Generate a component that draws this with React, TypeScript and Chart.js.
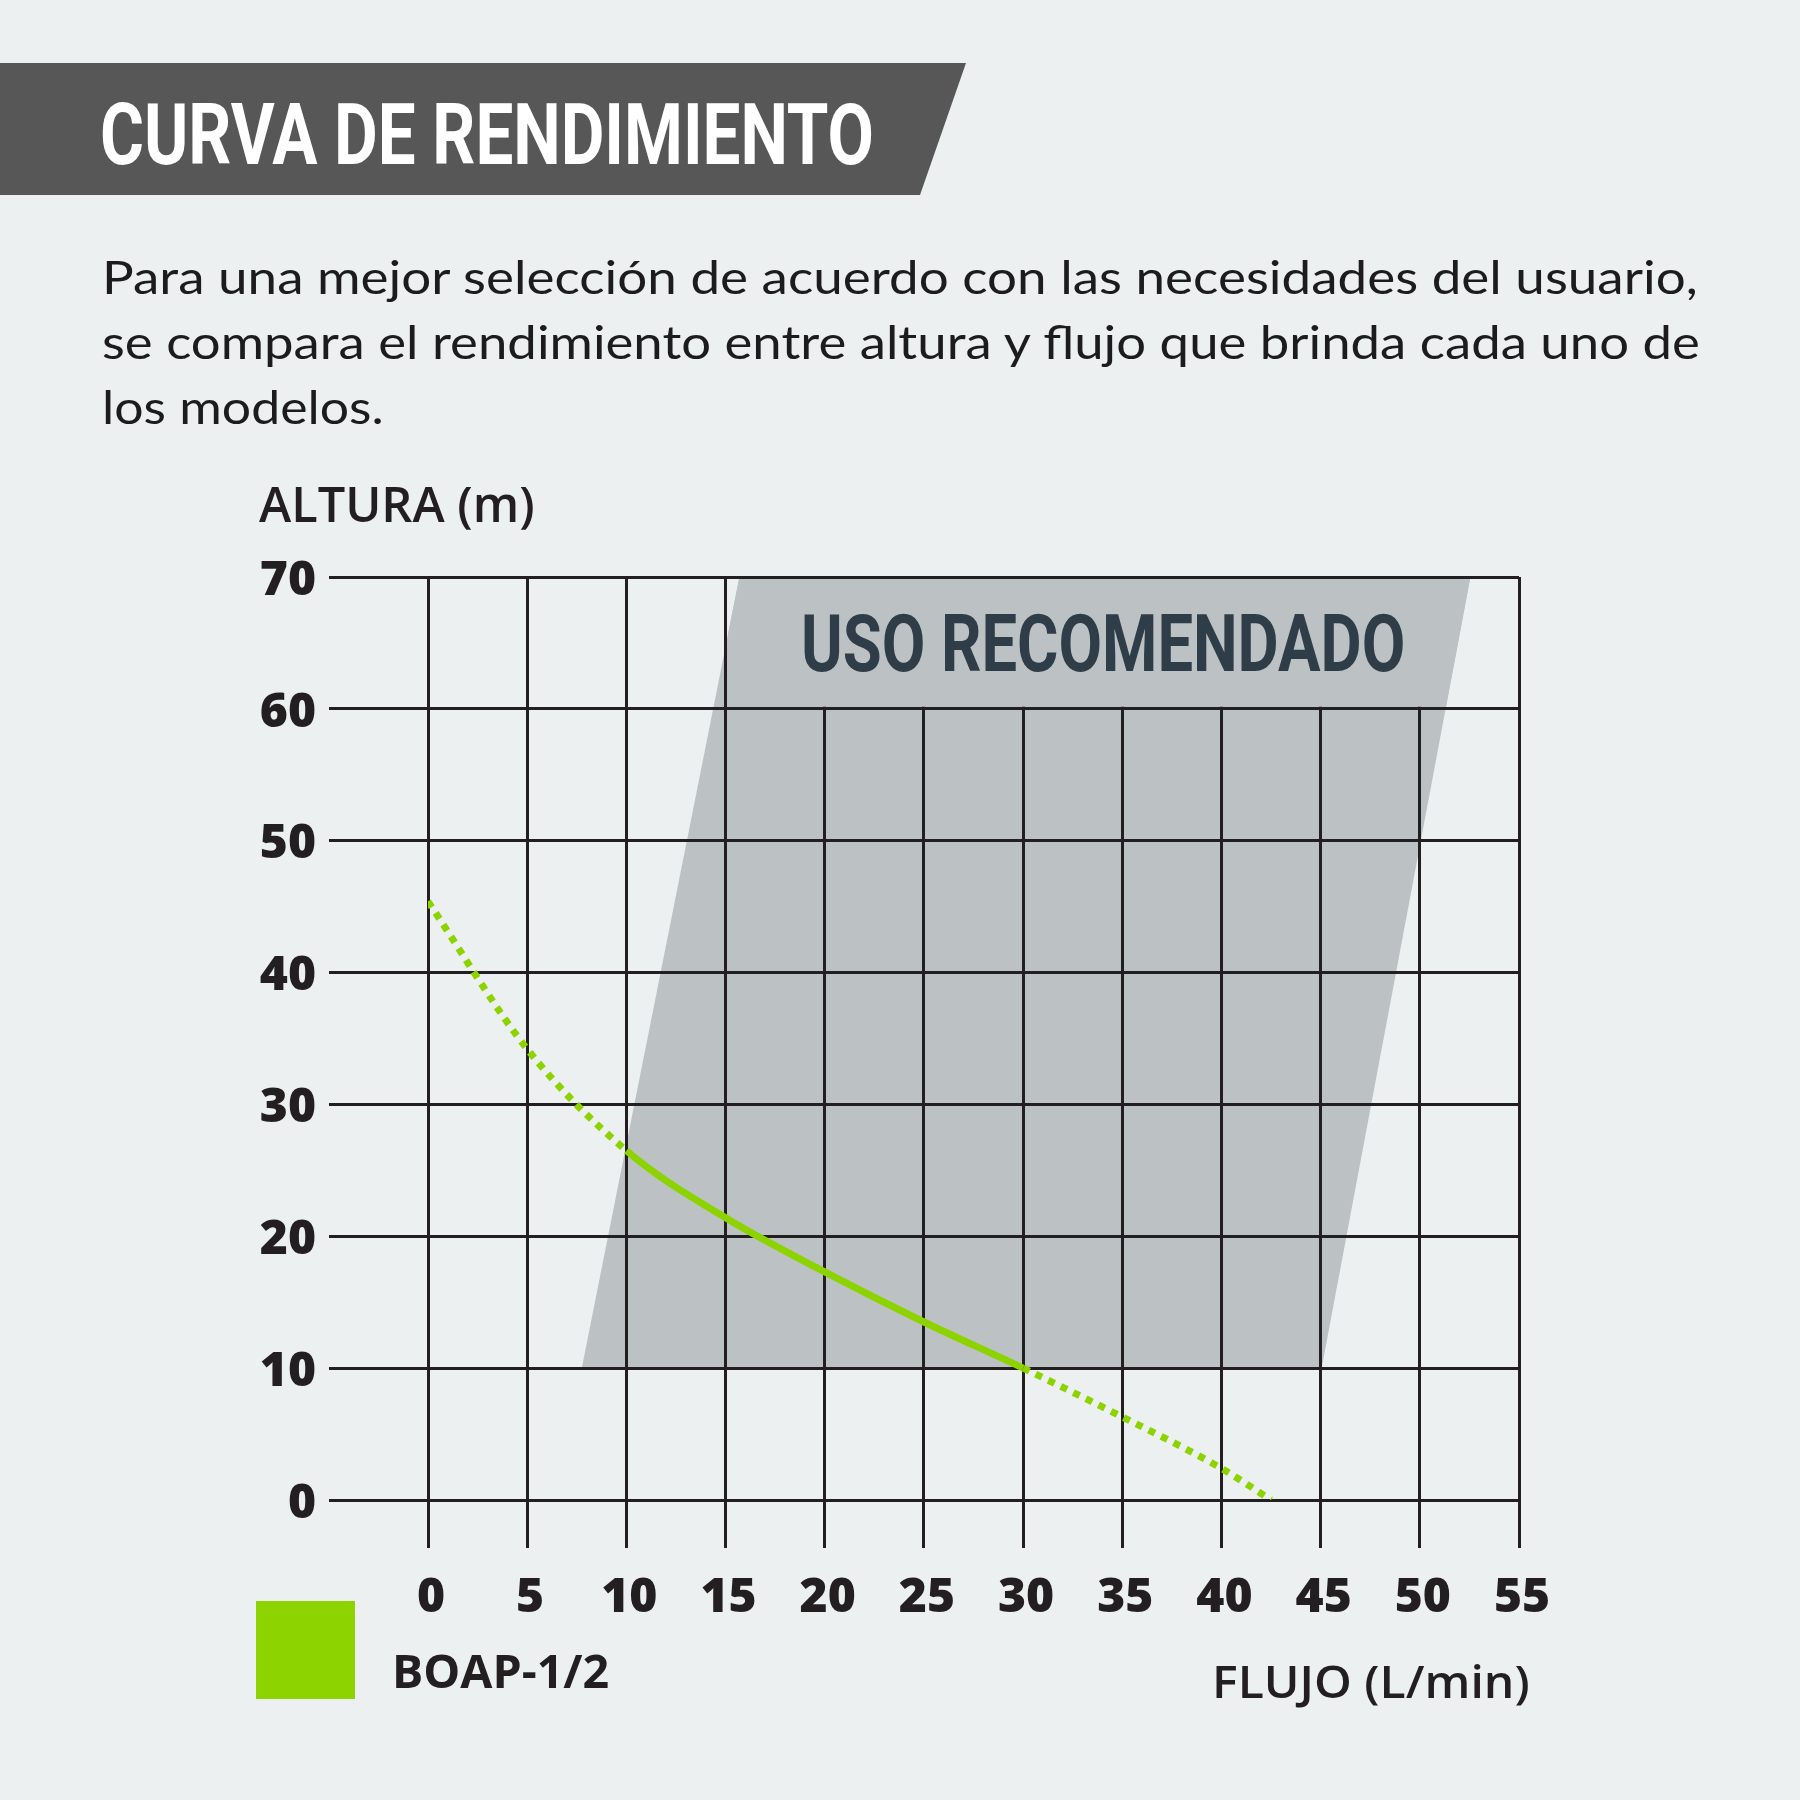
import React, { useEffect, useLayoutEffect, useRef } from "react";
import { Chart, registerables } from "chart.js";

Chart.register(...registerables);

// ---- data ----
const flowLpm = [0, 5, 10, 15, 20, 25, 30, 35, 40, 42.5];
const headM = [45.4, 34.2, 26.5, 21.4, 17.3, 13.5, 10.0, 6.3, 2.4, 0];
const solidFrom = 10;
const solidTo = 30;
const seriesLabel = "BOAP-1/2";

// recommended zone (parallelogram), flow / head corners
const zoneFlow = [7.75, 15.7, 52.55, 45.05];
const zoneHead = [10, 70, 70, 10];
const zoneLabel = "USO RECOMENDADO";
const zoneLabelBand = [60, 70];
const zoneLabelFromFlow = 15;

const xMin = 0;
const xMax = 55;
const xStep = 5;
const yMin = 0;
const yMax = 70;
const yStep = 10;

const titleText = "CURVA DE RENDIMIENTO";
const introLines = [
  "Para una mejor selección de acuerdo con las necesidades del usuario,",
  "se compara el rendimiento entre altura y flujo que brinda cada uno de",
  "los modelos.",
];
const yTitle = "ALTURA (m)";
const xTitle = "FLUJO (L/min)";

// ---- style ----
const BG = "#ecf0f1";
const GRID = "#231f20";
const ZONE = "#bcc1c3";
const GREEN = "#8dd300";
const DARK = "#2f3d48";
const TICK_FONT = { family: "'Open Sans'", size: 48, weight: "800" };

type FitProps = {
  text: string;
  left: number;
  capCenter: number;
  width: number;
  family: string;
  size: number;
  weight: number | string;
  color: string;
  k: number;
};

function FitText({ text, left, capCenter, width, family, size, weight, color, k }: FitProps) {
  const ref = useRef<HTMLDivElement>(null);
  useLayoutEffect(() => {
    const fit = () => {
      const el = ref.current;
      if (!el) return;
      el.style.transform = "none";
      const w = el.offsetWidth;
      if (w > 0) el.style.transform = `scaleX(${width / w})`;
    };
    fit();
    if ((document as any).fonts && (document as any).fonts.ready) {
      (document as any).fonts.ready.then(fit);
    }
  }, [text, width, family, size, weight]);
  return (
    <div
      ref={ref}
      style={{
        position: "absolute",
        left,
        top: capCenter - k * size,
        fontFamily: family,
        fontSize: size,
        fontWeight: weight as any,
        lineHeight: 1,
        whiteSpace: "nowrap",
        color,
        transformOrigin: "0 0",
      }}
    >
      {text}
    </div>
  );
}

function zonePath(ctx: CanvasRenderingContext2D, x: any, y: any) {
  ctx.beginPath();
  zoneFlow.forEach((f, i) => {
    const px = x.getPixelForValue(f);
    const py = y.getPixelForValue(zoneHead[i]);
    if (i === 0) ctx.moveTo(px, py);
    else ctx.lineTo(px, py);
  });
  ctx.closePath();
}

const zonePlugin = {
  id: "zone",
  beforeDraw(chart: any) {
    const { ctx, scales } = chart;
    ctx.save();
    ctx.fillStyle = ZONE;
    zonePath(ctx, scales.x, scales.y);
    ctx.fill();
    ctx.restore();
  },
  beforeDatasetsDraw(chart: any) {
    const { ctx, scales } = chart;
    const x = scales.x;
    const y = scales.y;
    const top = y.getPixelForValue(zoneLabelBand[1]) + 2;
    const bottom = y.getPixelForValue(zoneLabelBand[0]) - 2;
    const left = x.getPixelForValue(zoneLabelFromFlow) + 2;
    ctx.save();
    ctx.beginPath();
    ctx.rect(left, top, chart.width - left, bottom - top);
    ctx.clip();
    ctx.fillStyle = ZONE;
    zonePath(ctx, x, y);
    ctx.fill();
    ctx.restore();
  },
};

function PerformanceChart() {
  const canvasRef = useRef<HTMLCanvasElement>(null);
  useEffect(() => {
    const canvas = canvasRef.current;
    if (!canvas) return;
    const points = flowLpm.map((f, i) => ({ x: f, y: headM[i] }));
    const chart = new Chart(canvas, {
      type: "line",
      data: {
        datasets: [
          {
            label: seriesLabel,
            data: points,
            borderColor: GREEN,
            borderWidth: 7,
            borderCapStyle: "butt",
            pointRadius: 0,
            fill: false,
            cubicInterpolationMode: "monotone",
            segment: {
              borderDash: (ctx: any) =>
                ctx.p0.parsed.x < solidFrom || ctx.p0.parsed.x >= solidTo ? [7, 7] : [],
            },
          } as any,
        ],
      },
      options: {
        animation: false,
        responsive: false,
        devicePixelRatio: 1,
        layout: { padding: { left: 0, top: 577, right: 281, bottom: 150 } },
        plugins: {
          legend: { display: false },
          tooltip: { enabled: false },
          title: { display: false },
        },
        scales: {
          x: {
            type: "linear",
            min: xMin,
            max: xMax,
            afterFit: (s: any) => {
              s.height = 150;
            },
            ticks: {
              stepSize: xStep,
              color: GRID,
              padding: 22,
              labelOffset: 3,
              maxRotation: 0,
              font: TICK_FONT,
            },
            grid: { color: GRID, lineWidth: 3, tickLength: 48, drawTicks: true },
            border: { display: false },
          },
          y: {
            type: "linear",
            min: yMin,
            max: yMax,
            afterFit: (s: any) => {
              s.width = 428;
            },
            ticks: {
              stepSize: yStep,
              color: GRID,
              padding: 13,
              labelOffset: 4,
              font: TICK_FONT,
            },
            grid: { color: GRID, lineWidth: 3, tickLength: 99, drawTicks: true },
            border: { display: false },
          },
        },
      } as any,
      plugins: [zonePlugin],
    });
    return () => chart.destroy();
  }, []);
  return (
    <canvas
      ref={canvasRef}
      width={1800}
      height={1800}
      style={{ position: "absolute", left: 0, top: 0, width: 1800, height: 1800 }}
    />
  );
}

export default function App() {
  return (
    <div
      style={{
        position: "absolute",
        left: 0,
        top: 0,
        width: 1800,
        height: 1800,
        background: BG,
        overflow: "hidden",
      }}
    >
      <PerformanceChart />
      <div
        style={{
          position: "absolute",
          left: 0,
          top: 63,
          width: 966,
          height: 132,
          background: "#575757",
          clipPath: "polygon(0 0, 966px 0, 920px 132px, 0 132px)",
        }}
      />
      <FitText text={titleText} left={100} capCenter={133.5} width={774} family="Roboto" size={86} weight={700} color="#ffffff" k={0.486} />
      <FitText text={introLines[0]} left={102} capCenter={278} width={1596} family="Lato" size={47} weight={400} color="#1c1c1c" k={0.529} />
      <FitText text={introLines[1]} left={102} capCenter={343} width={1598} family="Lato" size={47} weight={400} color="#1c1c1c" k={0.529} />
      <FitText text={introLines[2]} left={102} capCenter={408} width={282} family="Lato" size={47} weight={400} color="#1c1c1c" k={0.529} />
      <FitText text={yTitle} left={259} capCenter={505} width={276} family="'Open Sans'" size={48} weight={600} color={GRID} k={0.531} />
      <FitText text={zoneLabel} left={801} capCenter={643} width={604} family="Roboto" size={80} weight={700} color={DARK} k={0.486} />
      <div style={{ position: "absolute", left: 256, top: 1601, width: 99, height: 98, background: GREEN }} />
      <FitText text={seriesLabel} left={392} capCenter={1672} width={217} family="'Open Sans'" size={47} weight={700} color={GRID} k={0.531} />
      <FitText text={xTitle} left={1212} capCenter={1681.5} width={318} family="'Open Sans'" size={46} weight={600} color={GRID} k={0.531} />
    </div>
  );
}
